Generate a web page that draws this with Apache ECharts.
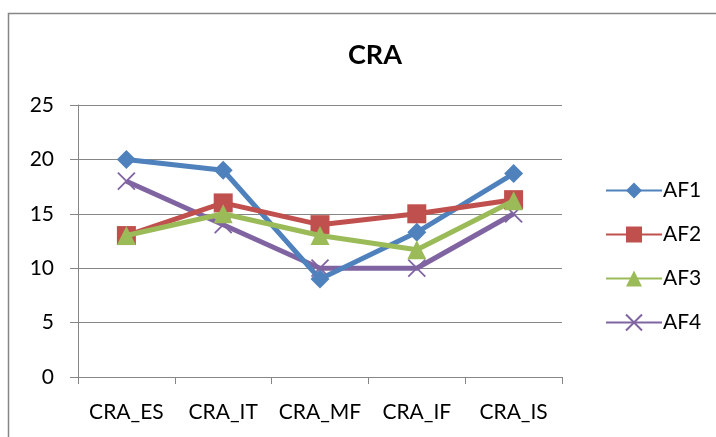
<!DOCTYPE html>
<html><head><meta charset="utf-8">
<script src="https://cdn.jsdelivr.net/npm/echarts@6/dist/echarts.min.js"></script>
<style>html,body{margin:0;padding:0;background:#fff}#c{width:716px;height:437px}</style>
</head><body><div id="c"></div>
<script>
const categories = ['CRA_ES','CRA_IT','CRA_MF','CRA_IF','CRA_IS'];
const seriesNames = ['AF1','AF2','AF3','AF4'];
const af1 = [20, 19, 9, 13.3, 18.7];
const af2 = [13, 16, 14, 15, 16.3];
const af3 = [13, 15, 13, 11.7, 16.2];
const af4 = [18, 14, 10, 10, 15];
const yTicks = [0, 5, 10, 15, 20, 25];

const colors = ['#4F81BD','#C0504D','#9BBB59','#8064A2'];
const symbols = ['diamond','rect','triangle','path://M0,0L20,20M20,0L0,20'];
const sizes = [19, 19, 19, 17];
const dataArr = [af1, af2, af3, af4];
const font = 'Lato, "Open Sans", sans-serif';

const chart = echarts.init(document.getElementById('c'), null, {renderer:'canvas'});
chart.setOption({
  animation: false,
  backgroundColor: '#fff',
  graphic: [{type:'rect', shape:{x:8.5,y:13.5,width:800,height:500}, style:{fill:'none', stroke:'#868686', lineWidth:1.5}, silent:true, z:-1}],
  title: {text:'CRA', left:343, top:37, textStyle:{fontFamily:font, fontSize:27, fontWeight:'bold', color:'#000'}},
  grid: {left:78, right:154, top:105, bottom:60},
  xAxis: {type:'category', data:categories, boundaryGap:true,
    axisLine:{lineStyle:{color:'#868686', width:1}},
    axisTick:{show:true, length:7, lineStyle:{color:'#868686'}},
    axisLabel:{fontFamily:font, fontSize:21, color:'#000', margin:25, interval:0}},
  yAxis: {type:'value', min:yTicks[0], max:yTicks[yTicks.length-1], interval:5,
    axisLine:{show:true, lineStyle:{color:'#868686', width:1}},
    axisTick:{show:true, length:8, lineStyle:{color:'#868686'}},
    splitLine:{lineStyle:{color:'#868686', width:1}},
    axisLabel:{fontFamily:font, fontSize:21, color:'#000', margin:24}},
  legend: {orient:'vertical', left:600, top:175, itemGap:23, itemWidth:56, itemHeight:20,
    textStyle:{fontFamily:font, fontSize:21, color:'#000', padding:[0,0,0,-4]},
    data: seriesNames},
  series: seriesNames.map((n,i)=>({
    name:n, type:'line', data:dataArr[i], symbol:symbols[i], symbolSize:sizes[i],
    lineStyle:{color:colors[i], width:5},
    itemStyle: i===3 ? {color:colors[i], borderColor:colors[i], borderWidth:1.8} : {color:colors[i], borderWidth:0},
    z: [3,4,5,2][i]
  }))
});
</script></body></html>
